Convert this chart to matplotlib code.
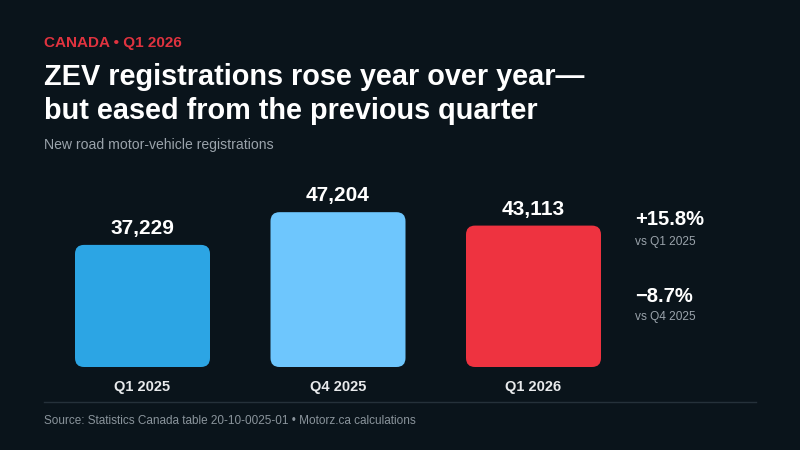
import matplotlib
matplotlib.use("Agg")
import matplotlib.pyplot as plt
from matplotlib.patches import FancyBboxPatch
from matplotlib.lines import Line2D

categories = ["Q1 2025", "Q4 2025", "Q1 2026"]
values = [37229, 47204, 43113]
bar_colors = ["#2ca5e4", "#6ec6fd", "#ee3340"]
changes = ["+15.8%", "\u22128.7%"]
change_labels = ["vs Q1 2025", "vs Q4 2025"]

BG = "#0a141b"
W, H = 800, 450
plt.rcParams['font.family'] = ['Liberation Sans', 'DejaVu Sans']

fig = plt.figure(figsize=(8, 4.5), dpi=100, facecolor=BG)

def fx(px):
    return px / W

def fy(py):
    return 1 - py / H

# Header texts
fig.text(fx(44), fy(47), "CANADA \u2022 Q1 2026", color="#e0333f", fontsize=11,
         fontweight="bold", ha="left", va="baseline")
fig.text(fx(44), fy(85), "ZEV registrations rose year over year\u2014", color="white",
         fontsize=20.8, fontweight="bold", ha="left", va="baseline")
fig.text(fx(44), fy(119), "but eased from the previous quarter", color="white",
         fontsize=20.8, fontweight="bold", ha="left", va="baseline")
fig.text(fx(44), fy(149), "New road motor-vehicle registrations", color="#9aa3ab",
         fontsize=10.1, ha="left", va="baseline")

# Axes: baseline at y=367px, 0.00328 px per unit
slot = 195.5
left_px = 142.5 - slot / 2
ymax = 50000
top_px = 367 - ymax * 0.00328
ax = fig.add_axes([fx(left_px), fy(367), 3 * slot / W, (367 - top_px) / H])
ax.set_facecolor(BG)
ax.set_xlim(-0.5, 2.5)
ax.set_ylim(0, ymax)
ax.axis("off")

bw = 135 / slot
r_px = 9
aspect = (ymax / (367 - top_px)) / (1 / slot)
for i, (v, c) in enumerate(zip(values, bar_colors)):
    p = FancyBboxPatch((i - bw / 2, 0), bw, v,
                       boxstyle=f"round,pad=0,rounding_size={r_px / slot}",
                       mutation_aspect=aspect, facecolor=c, edgecolor="none",
                       clip_on=False)
    ax.add_patch(p)
    ax.annotate(f"{v:,}", (i, v), xytext=(0, 11), textcoords="offset pixels",
                ha="center", va="baseline", color="white", fontsize=15,
                fontweight="bold", annotation_clip=False)
    ax.annotate(categories[i], (i, 0), xytext=(0, -24), textcoords="offset pixels",
                ha="center", va="baseline", color="#e8eaec", fontsize=10.5,
                fontweight="bold", annotation_clip=False)

# Right annotations
ys = [(225, 245), (302, 320)]
for (y1, y2), ch, lab in zip(ys, changes, change_labels):
    fig.text(fx(635), fy(y1), ch, color="white", fontsize=14.5, fontweight="bold",
             ha="left", va="baseline")
    fig.text(fx(635), fy(y2), lab, color="#9aa3ab", fontsize=8.6, ha="left", va="baseline")

# Divider and source
fig.add_artist(Line2D([fx(44), fx(756)], [fy(402), fy(402)], color="#25313a", lw=1))
fig.text(fx(44), fy(424), "Source: Statistics Canada table 20-10-0025-01 \u2022 Motorz.ca calculations",
         color="#8a949c", fontsize=8.5, ha="left", va="baseline")

fig.savefig("out.png", dpi=100, facecolor=BG)
